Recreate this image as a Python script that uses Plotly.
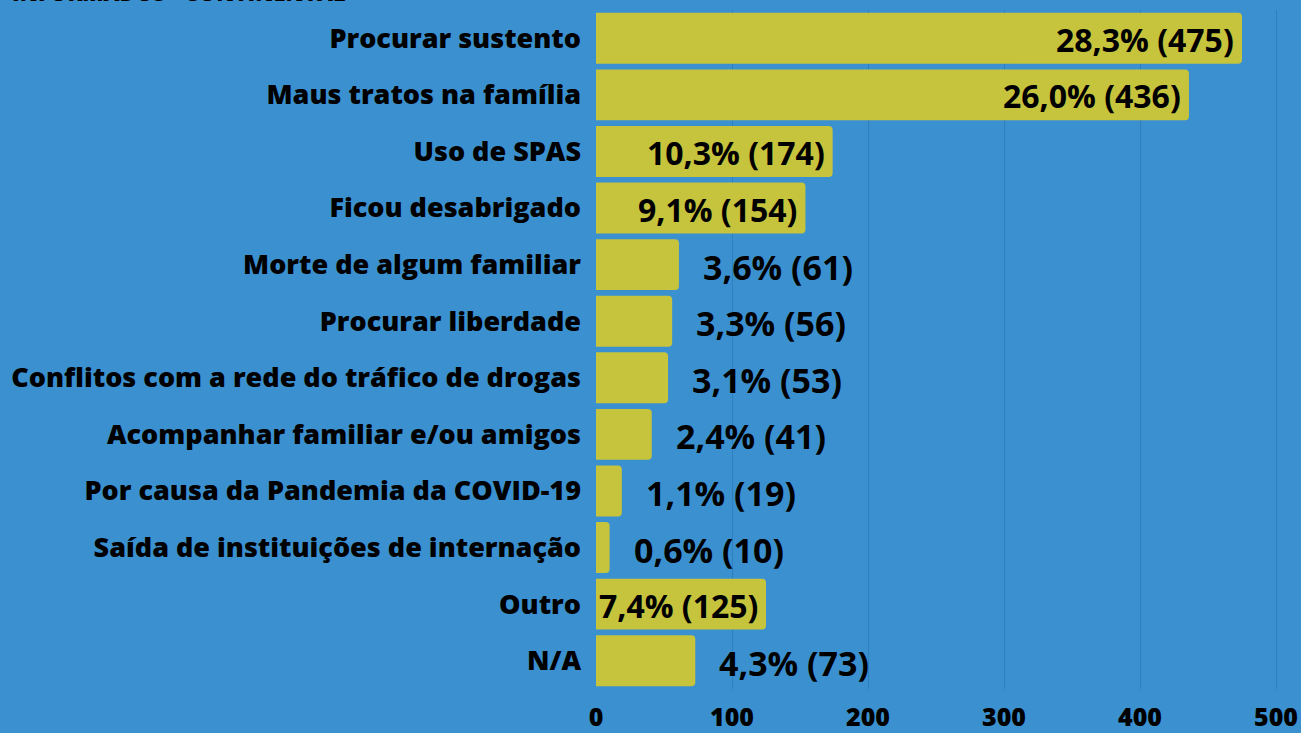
import plotly.graph_objects as go

# Motivos (categorias), contagens e percentuais
categories = [
    "Procurar sustento",
    "Maus tratos na família",
    "Uso de SPAS",
    "Ficou desabrigado",
    "Morte de algum familiar",
    "Procurar liberdade",
    "Conflitos com a rede do tráfico de drogas",
    "Acompanhar familiar e/ou amigos",
    "Por causa da Pandemia da COVID-19",
    "Saída de instituições de internação",
    "Outro",
    "N/A",
]
counts = [475, 436, 174, 154, 61, 56, 53, 41, 19, 10, 125, 73]
percents = ["28,3%", "26,0%", "10,3%", "9,1%", "3,6%", "3,3%", "3,1%",
            "2,4%", "1,1%", "0,6%", "7,4%", "4,3%"]
tick_values = [0, 100, 200, 300, 400, 500]

BG = "#3b91d0"
BAR = "#c6c33d"
GRID = "#2e7fbd"
FONT = "Open Sans"

PLOT_LEFT = 596
PLOT_W = 705

labels = [f"{p} ({c})" for p, c in zip(percents, counts)]

fig = go.Figure()
fig.add_trace(go.Bar(
    y=categories,
    x=counts,
    orientation="h",
    marker=dict(color=BAR, line=dict(width=0), cornerradius=4),
    hoverinfo="skip",
))

# Rótulos de valor: dentro das barras longas, fora das curtas
for cat, c, t in zip(categories, counts, labels):
    if c >= 100:
        fig.add_annotation(
            x=c, y=cat, xref="x", yref="y", text=t, showarrow=False,
            xanchor="right", xshift=-6, yshift=-1,
            font=dict(family=FONT, size=32, color="black", weight=700),
        )
    else:
        fig.add_annotation(
            x=c, y=cat, xref="x", yref="y", text=t, showarrow=False,
            xanchor="left", xshift=22, yshift=-2,
            font=dict(family=FONT, size=34, color="black", weight=700),
        )

# Título (parte inferior visível no topo)
fig.add_annotation(
    x=(10 - PLOT_LEFT) / PLOT_W, y=1, xref="paper", yref="paper",
    xanchor="left", yanchor="bottom", yshift=1,
    text="INFORMADOS - CONTINENTAL", showarrow=False,
    font=dict(family=FONT, size=22, color="black", weight=800),
)

fig.update_layout(
    width=1301, height=733,
    paper_bgcolor=BG, plot_bgcolor=BG,
    margin=dict(l=PLOT_LEFT, r=0, t=10, b=39),
    bargap=0.1,
    showlegend=False,
    xaxis=dict(
        range=[0, PLOT_W / 1.36],
        tickvals=tick_values,
        showgrid=True, gridcolor=GRID, gridwidth=1,
        zeroline=False, showline=False,
        ticks="", ticklabelstandoff=11,
        tickfont=dict(family=FONT, size=25, color="black", weight=800),
    ),
    yaxis=dict(
        autorange="reversed",
        showgrid=False, zeroline=False, showline=False,
        ticks="", ticklabelstandoff=14,
        tickfont=dict(family=FONT, size=27, color="black", weight=800),
    ),
)

fig.write_html("out.html")
